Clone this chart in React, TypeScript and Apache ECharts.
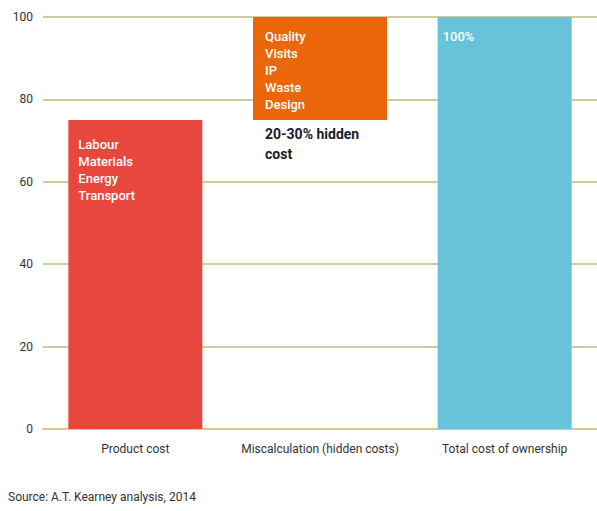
import React, { useEffect, useRef } from "react";
import * as echarts from "echarts";

const categories = ["Product cost", "Miscalculation (hidden costs)", "Total cost of ownership"];
const baseValues = [0, 75, 0];
const barValues = [75, 25, 100];
const barColors = ["#e8473d", "#eb6608", "#66c3da"];
const barTexts = [
  "Labour\nMaterials\nEnergy\nTransport",
  "Quality\nVisits\nIP\nWaste\nDesign",
  "100%",
];
const hiddenNote = "20-30% hidden\ncost";
const yTicks = { min: 0, max: 100, interval: 20 };
const sourceText = "Source: A.T. Kearney analysis, 2014";

const FONT = "Roboto, 'DejaVu Sans', sans-serif";

export default function App() {
  const ref = useRef<HTMLDivElement>(null);
  useEffect(() => {
    if (!ref.current) return;
    const chart = echarts.init(ref.current, undefined, { renderer: "svg" });
    const labelPositions = [
      [10, 16],
      [12, 11],
      [5, 11],
    ];
    chart.setOption({
      animation: false,
      textStyle: { fontFamily: FONT },
      grid: { left: 43, right: 0, top: 17, bottom: 82 },
      xAxis: {
        type: "category",
        data: categories,
        axisTick: { show: false },
        axisLine: { lineStyle: { color: "#d9cb8c", width: 2 } },
        axisLabel: { color: "#333", fontSize: 12, margin: 14, interval: 0, fontFamily: FONT },
      },
      yAxis: {
        type: "value",
        min: yTicks.min,
        max: yTicks.max,
        interval: yTicks.interval,
        axisLine: { show: false },
        axisTick: { show: false },
        axisLabel: { color: "#333", fontSize: 12, margin: 10, fontFamily: FONT },
        splitLine: { lineStyle: { color: "#cfcca2", width: 2 } },
      },
      series: [
        {
          type: "bar",
          stack: "s",
          barWidth: 134,
          itemStyle: { color: "transparent" },
          data: baseValues.map((v, i) => ({
            value: v,
            label:
              i === 1
                ? {
                    show: true,
                    position: [12, 4],
                    formatter: hiddenNote,
                    color: "#1b1b2a",
                    fontSize: 14,
                    fontWeight: "bold",
                    lineHeight: 20,
                    fontFamily: FONT,
                  }
                : { show: false },
          })),
        },
        {
          type: "bar",
          stack: "s",
          barWidth: 134,
          data: barValues.map((v, i) => ({
            value: v,
            itemStyle: { color: barColors[i] },
            label: {
              show: true,
              position: labelPositions[i],
              formatter: barTexts[i],
              color: "#ffffff",
              fontSize: 13,
              fontWeight: 500,
              lineHeight: 17,
              fontFamily: FONT,
            },
          })),
        },
      ],
      graphic: [
        {
          type: "text",
          left: 8,
          top: 491,
          style: { text: sourceText, fill: "#333", fontSize: 12, fontFamily: FONT },
        },
      ],
    });
    return () => chart.dispose();
  }, []);
  return <div ref={ref} style={{ width: 597, height: 511, position: "absolute", left: 0, top: 0 }} />;
}
